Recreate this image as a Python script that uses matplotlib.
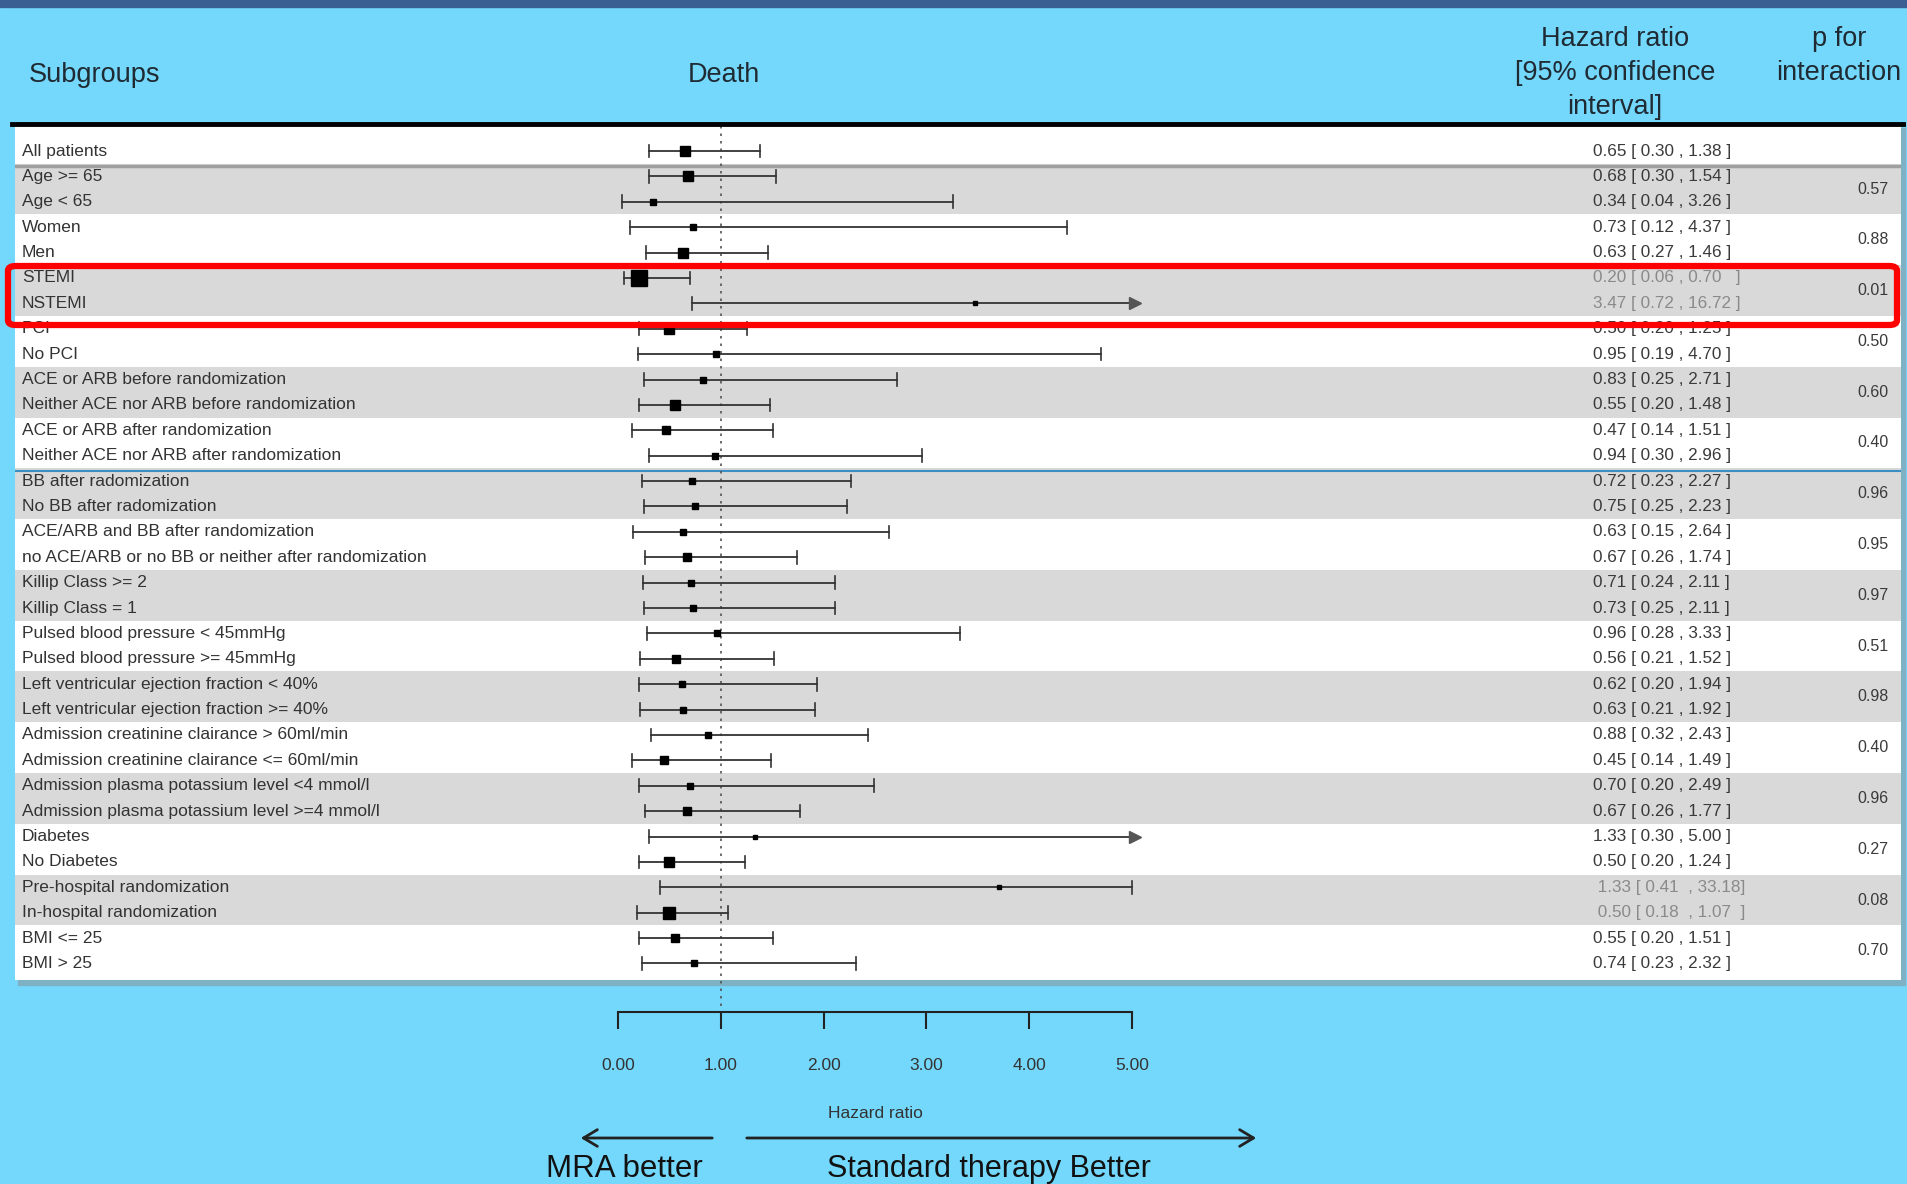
import matplotlib
matplotlib.use("Agg")
import matplotlib.pyplot as plt
import matplotlib.transforms as mtransforms
from matplotlib.patches import Rectangle, FancyBboxPatch, FancyArrowPatch

W, H = 1907, 1184

labels = ["All patients", "Age >= 65", "Age < 65", "Women", "Men", "STEMI", "NSTEMI",
          "PCI", "No PCI", "ACE or ARB before randomization",
          "Neither ACE nor ARB before randomization", "ACE or ARB after randomization",
          "Neither ACE nor ARB after randomization", "BB after radomization",
          "No BB after radomization", "ACE/ARB and BB after randomization",
          "no ACE/ARB or no BB or neither after randomization", "Killip Class >= 2",
          "Killip Class = 1", "Pulsed blood pressure < 45mmHg",
          "Pulsed blood pressure >= 45mmHg", "Left ventricular ejection fraction < 40%",
          "Left ventricular ejection fraction >= 40%",
          "Admission creatinine clairance > 60ml/min",
          "Admission creatinine clairance <= 60ml/min",
          "Admission plasma potassium level <4 mmol/l",
          "Admission plasma potassium level >=4 mmol/l", "Diabetes", "No Diabetes",
          "Pre-hospital randomization", "In-hospital randomization", "BMI <= 25", "BMI > 25"]

# point drawn on the plot (hazard ratio) and CI ends
hr = [0.65, 0.68, 0.34, 0.73, 0.63, 0.20, 3.47, 0.50, 0.95, 0.83, 0.55, 0.47, 0.94,
      0.72, 0.75, 0.63, 0.67, 0.71, 0.73, 0.96, 0.56, 0.62, 0.63, 0.88, 0.45, 0.70,
      0.67, 1.33, 0.50, 3.71, 0.50, 0.55, 0.74]
lo = [0.30, 0.30, 0.04, 0.12, 0.27, 0.06, 0.72, 0.20, 0.19, 0.25, 0.20, 0.14, 0.30,
      0.23, 0.25, 0.15, 0.26, 0.24, 0.25, 0.28, 0.21, 0.20, 0.21, 0.32, 0.14, 0.20,
      0.26, 0.30, 0.20, 0.41, 0.18, 0.20, 0.23]
hi = [1.38, 1.54, 3.26, 4.37, 1.46, 0.70, 16.72, 1.25, 4.70, 2.71, 1.48, 1.51, 2.96,
      2.27, 2.23, 2.64, 1.74, 2.11, 2.11, 3.33, 1.52, 1.94, 1.92, 2.43, 1.49, 2.49,
      1.77, 5.00, 1.24, 33.18, 1.07, 1.51, 2.32]
# relative box size (study weight)
weights = [8, 7, 4, 4, 7, 12, 3, 7, 4, 5, 7, 6, 4, 5, 5, 4, 6, 5, 5, 4, 6, 5, 5, 4,
           6, 4, 6, 3, 7, 3, 9, 6, 5]
arrow_rows = [6, 27]

ci_text = ["0.65 [ 0.30 , 1.38 ]", "0.68 [ 0.30 , 1.54 ]", "0.34 [ 0.04 , 3.26 ]",
           "0.73 [ 0.12 , 4.37 ]", "0.63 [ 0.27 , 1.46 ]", "0.20 [ 0.06 , 0.70   ]",
           "3.47 [ 0.72 , 16.72 ]", "0.50 [ 0.20 , 1.25 ]", "0.95 [ 0.19 , 4.70 ]",
           "0.83 [ 0.25 , 2.71 ]", "0.55 [ 0.20 , 1.48 ]", "0.47 [ 0.14 , 1.51 ]",
           "0.94 [ 0.30 , 2.96 ]", "0.72 [ 0.23 , 2.27 ]", "0.75 [ 0.25 , 2.23 ]",
           "0.63 [ 0.15 , 2.64 ]", "0.67 [ 0.26 , 1.74 ]", "0.71 [ 0.24 , 2.11 ]",
           "0.73 [ 0.25 , 2.11 ]", "0.96 [ 0.28 , 3.33 ]", "0.56 [ 0.21 , 1.52 ]",
           "0.62 [ 0.20 , 1.94 ]", "0.63 [ 0.21 , 1.92 ]", "0.88 [ 0.32 , 2.43 ]",
           "0.45 [ 0.14 , 1.49 ]", "0.70 [ 0.20 , 2.49 ]", "0.67 [ 0.26 , 1.77 ]",
           "1.33 [ 0.30 , 5.00 ]", "0.50 [ 0.20 , 1.24 ]", " 1.33 [ 0.41  , 33.18]",
           " 0.50 [ 0.18  , 1.07  ]", "0.55 [ 0.20 , 1.51 ]", "0.74 [ 0.23 , 2.32 ]"]
faded = [5, 6, 29, 30]

p_rows = [1.5, 3.5, 5.5, 7.5, 9.5, 11.5, 13.5, 15.5, 17.5, 19.5, 21.5, 23.5, 25.5,
          27.5, 29.5, 31.5]
p_vals = ["0.57", "0.88", "0.01", "0.50", "0.60", "0.40", "0.96", "0.95", "0.97",
          "0.51", "0.98", "0.40", "0.96", "0.27", "0.08", "0.70"]

ticks = [0, 1, 2, 3, 4, 5]
tick_labels = ["0.00", "1.00", "2.00", "3.00", "4.00", "5.00"]

sans = ["Liberation Sans", "DejaVu Sans"]
bg = "#74d8fc"
txt = "#333333"

fig = plt.figure(figsize=(W / 100, H / 100), dpi=100, facecolor=bg)

def fx(px):
    return px / W

def fy(py):
    return 1 - py / H

# dark strip at the very top
fig.patches.append(Rectangle((0, fy(7)), 1, 7 / H, transform=fig.transFigure,
                             color="#3a5f92", zorder=-2))

# table panel shadow
fig.patches.append(Rectangle((fx(18), fy(985)), fx(1887), (985 - 128) / H,
                             transform=fig.transFigure, color="#7fb1c4", zorder=-2))

tab_l, tab_r, tab_t, tab_b = 15, 1901, 126, 980
ax = fig.add_axes([fx(tab_l), fy(tab_b), (tab_r - tab_l) / W, (tab_b - tab_t) / H])
ax.set_facecolor("white")

# x scale: 0 -> 618 px, 5 -> 1132 px
x0_px, x5_px = 618, 1132
u = 5 / (x5_px - x0_px)
ax.set_xlim((tab_l - x0_px) * u, (tab_r - x0_px) * u)

row0, step = 151, 25.39
ax.set_ylim((tab_b - row0) / step, (tab_t - row0) / step)

# alternating bands: pairs of rows after the first
for k in range(1, len(labels), 4):
    ax.axhspan(k - 0.5, k + 1.5, color="#d9d9d9", lw=0, zorder=0)
ax.axhline(0.6, color="#a0a0a0", lw=2.5, zorder=1)
ax.axhline(12.62, color="#3c8fc4", lw=1.5, zorder=1)

# reference line at HR = 1
axis_y = (1012 - row0) / step
ax.plot([1, 1], [-0.98, axis_y], color="#555555", lw=1.2, ls=(0, (1.5, 3)),
        clip_on=False, zorder=2)

lc = "#333333"
for i in range(len(labels)):
    right = min(hi[i], 5)
    ax.plot([lo[i], right], [i, i], color=lc, lw=1.3, zorder=3)
    ax.plot([lo[i], lo[i]], [i - 0.25, i + 0.25], color=lc, lw=1.2, zorder=3)
    if i in arrow_rows:
        ax.plot(5.03, i, marker=">", color="#555555", ms=8, zorder=3)
    else:
        ax.plot([right, right], [i - 0.25, i + 0.25], color=lc, lw=1.2, zorder=3)
    ax.plot(hr[i], i, marker="s", color="black", ms=weights[i] * 0.95, zorder=4)

lab_tr = mtransforms.blended_transform_factory(fig.transFigure, ax.transData)
for i, lab in enumerate(labels):
    ax.text(fx(22), i, lab, transform=lab_tr, ha="left", va="center",
            fontsize=12.5, family=sans, color=txt)
    ax.text(fx(1593), i, ci_text[i], transform=lab_tr, ha="left", va="center",
            fontsize=12.3, family=sans,
            color="#8a8a8a" if i in faded else "#3a3a3a")
for y, p in zip(p_rows, p_vals):
    ax.text(fx(1873), y, p, transform=lab_tr, ha="center", va="center",
            fontsize=11.5, family=sans, color="#3a3a3a")

for s in ["top", "left", "right"]:
    ax.spines[s].set_visible(False)
ax.spines["bottom"].set_position(("outward", 32 * 0.72))
ax.spines["bottom"].set_bounds(0, 5)
ax.spines["bottom"].set_linewidth(1.5)
ax.spines["bottom"].set_color("#222222")
ax.set_yticks([])
ax.set_xticks(ticks)
ax.set_xticklabels(tick_labels, family=sans, fontsize=12.5, color=txt)
ax.tick_params(axis="x", direction="out", length=12, width=1.5, color="#222222",
               pad=21)

# headers
hkw = dict(fontsize=19.5, family=sans, color="#1f2a33", linespacing=1.4)
fig.text(fx(29), fy(75), "Subgroups", ha="left", va="center", **hkw)
fig.text(fx(724), fy(75), "Death", ha="center", va="center", **hkw)
fig.text(fx(1615), fy(73), "Hazard ratio\n[95% confidence\ninterval]", ha="center",
         va="center", **hkw)
fig.text(fx(1839), fy(56), "p for\ninteraction", ha="center", va="center", **hkw)
fig.add_artist(plt.Line2D([fx(12), fx(1903)], [fy(124), fy(124)], color="black",
                          lw=3.5, transform=fig.transFigure))

# highlight box around STEMI / NSTEMI
fig.patches.append(FancyBboxPatch((fx(8), fy(325)), fx(1889), (325 - 266) / H,
                                  boxstyle="round,pad=0,rounding_size=0.004",
                                  transform=fig.transFigure, fill=False,
                                  edgecolor="#ff0000", lw=4.5, zorder=10))

# axis caption and direction arrows
fig.text(fx(875), fy(1113), "Hazard ratio", ha="center", va="center", fontsize=12.5,
         family=sans, color=txt)
for start, end in [(715, 578), (744, 1259)]:
    fig.add_artist(FancyArrowPatch(
        (fx(start), fy(1138)), (fx(end), fy(1138)), transform=fig.transFigure,
        arrowstyle="->,head_length=10,head_width=6", lw=2, color="#222222",
        mutation_scale=1))
fig.text(fx(624), fy(1169), "MRA better", ha="center", va="center", fontsize=22.5,
         family=sans, color="#111111")
fig.text(fx(989), fy(1169), "Standard therapy Better", ha="center", va="center",
         fontsize=22, family=sans, color="#111111")

fig.savefig("out.png", dpi=100, facecolor=bg)
